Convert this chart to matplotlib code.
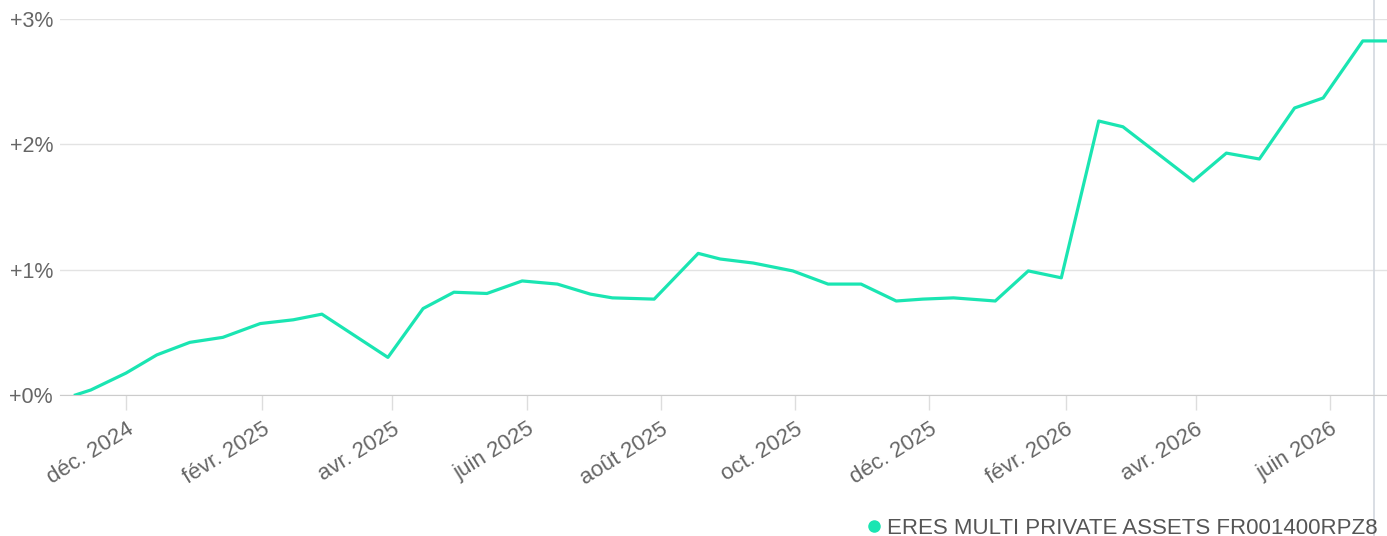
# fund performance line chart
import matplotlib
matplotlib.use("Agg")
import matplotlib.pyplot as plt
import numpy as np
import pandas as pd

plt.rcParams['font.family'] = ['Liberation Sans', 'DejaVu Sans']

# data (cumulative performance, %)
dates = pd.to_datetime([
    "2024-11-08", "2024-11-15", "2024-12-01", "2024-12-15", "2024-12-30",
    "2025-01-14", "2025-01-31", "2025-02-15", "2025-02-28", "2025-03-30",
    "2025-04-15", "2025-04-29", "2025-05-14", "2025-05-30", "2025-06-15",
    "2025-06-30", "2025-07-10", "2025-07-29", "2025-08-18", "2025-08-28",
    "2025-09-12", "2025-09-30", "2025-10-16", "2025-10-31", "2025-11-16",
    "2025-11-28", "2025-12-12", "2025-12-31", "2026-01-15", "2026-01-30",
    "2026-02-16", "2026-02-27", "2026-03-31", "2026-04-15", "2026-04-30",
    "2026-05-16", "2026-05-29", "2026-06-16", "2026-06-27",
])
perf = [
    0.00, 0.04, 0.175, 0.32, 0.42,
    0.46, 0.57, 0.60, 0.645, 0.30,
    0.69, 0.82, 0.81, 0.91, 0.885,
    0.805, 0.775, 0.765, 1.13, 1.085,
    1.053, 0.99, 0.885, 0.885, 0.75,
    0.765, 0.775, 0.75, 0.99, 0.935,
    2.186, 2.14, 1.707, 1.93, 1.883,
    2.29, 2.37, 2.825, 2.825,
]
series_name = "ERES MULTI PRIVATE ASSETS FR001400RPZ8"

tick_dates = pd.to_datetime([
    "2024-12-01", "2025-02-01", "2025-04-01", "2025-06-01", "2025-08-01",
    "2025-10-01", "2025-12-01", "2026-02-01", "2026-04-01", "2026-06-01",
])
tick_labels = ["déc. 2024", "févr. 2025", "avr. 2025", "juin 2025", "août 2025",
               "oct. 2025", "déc. 2025", "févr. 2026", "avr. 2026", "juin 2026"]
y_ticks = [0, 1, 2, 3]
y_labels = ["+0%", "+1%", "+2%", "+3%"]
hover_date = pd.Timestamp("2026-06-21")

line_color = "#1ae5b2"
text_color = "#666666"

W, H = 1387, 536
fig = plt.figure(figsize=(W / 100, H / 100), dpi=100)
ax = fig.add_axes([60 / W, (H - 395) / H, (W - 60) / W, 376 / H])

ax.plot(dates, perf, color=line_color, lw=2.3, solid_joinstyle='round', zorder=3)

ax.set_xlim(pd.Timestamp("2024-11-01"), dates[-1])
ax.set_ylim(0, 3)

ax.set_yticks(y_ticks)
ax.set_yticklabels(y_labels)
ax.set_xticks(tick_dates)
ax.set_xticklabels(tick_labels, rotation=32, ha='right', rotation_mode='anchor')

ax.grid(axis='y', color='#e3e3e3', lw=1)
ax.set_axisbelow(True)
for s in ['top', 'right', 'left']:
    ax.spines[s].set_visible(False)
ax.spines['bottom'].set_color('#cccccc')
ax.tick_params(axis='y', length=0, pad=5, labelsize=15.5, labelcolor=text_color)
ax.tick_params(axis='x', length=11, width=1, color='#dddddd', pad=6,
               labelsize=16, labelcolor=text_color)

# hover crosshair
ax.axvline(hover_date, ymin=-0.375, ymax=1.06, color='#d3d8df', lw=1.2,
           clip_on=False, zorder=1)

# legend
ax.legend([plt.Line2D([], [], ls='', marker='o', ms=8, color=line_color)],
          [series_name], loc='center right',
          bbox_to_anchor=(1378 / W, 1 - 528 / H), bbox_transform=fig.transFigure,
          frameon=False, fontsize=16, labelcolor='#555555',
          handletextpad=0.0, borderaxespad=0, borderpad=0, handlelength=1.2)

fig.savefig("out.png", dpi=100)
